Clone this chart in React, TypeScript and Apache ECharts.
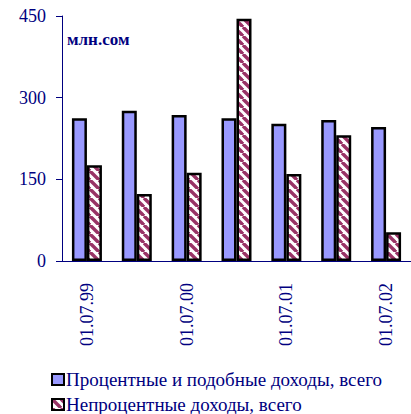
import React, { useEffect, useRef } from "react";
import * as echarts from "echarts";

const categories = ["01.07.99", "01.01.00", "01.07.00", "01.01.01", "01.07.01", "01.01.02", "01.07.02"];
const interestIncome = [262, 276, 268, 262, 252, 259, 246];
const nonInterestIncome = [176, 123, 162, 445, 160, 231, 53];
const seriesNames = ["Процентные и подобные доходы, всего", "Непроцентные доходы, всего"];
const unitLabel = "млн.сом";

const NAVY = "#000080";
const FONT = "'Liberation Serif', 'Times New Roman', serif";

function makeHatch(): string {
  const s = 9;
  const c = document.createElement("canvas");
  c.width = s;
  c.height = s;
  const ctx = c.getContext("2d")!;
  ctx.fillStyle = "#ffffff";
  ctx.fillRect(0, 0, s, s);
  ctx.strokeStyle = "#993366";
  ctx.lineWidth = 3.4;
  for (const k of [-s, 0, s]) {
    ctx.beginPath();
    ctx.moveTo(k, 0);
    ctx.lineTo(k + s, s);
    ctx.stroke();
  }
  return c.toDataURL();
}

export default function App() {
  const ref = useRef<HTMLDivElement>(null);
  useEffect(() => {
    if (!ref.current) return;
    const chart = echarts.init(ref.current, null, { renderer: "svg" });
    const hatch = makeHatch();
    const legendCommon = {
      orient: "horizontal",
      left: 46,
      itemWidth: 12,
      itemHeight: 11,
      icon: "rect",
      textStyle: { color: NAVY, fontFamily: FONT, fontSize: 19, lineHeight: 17, padding: [0, 0, 0, -3] },
    };
    chart.setOption({
      animation: false,
      backgroundColor: "#ffffff",
      grid: { left: 62, top: 16, bottom: 153, right: -4 },
      graphic: [
        {
          type: "text",
          left: 67,
          top: 31,
          style: { text: unitLabel, fill: NAVY, font: `bold 17px 'Liberation Serif', 'Times New Roman', serif` },
        },
      ],
      legend: [
        { ...legendCommon, top: 365, data: [seriesNames[0]] },
        { ...legendCommon, top: 390, data: [seriesNames[1]] },
      ],
      xAxis: {
        type: "category",
        data: categories,
        axisLine: { lineStyle: { color: NAVY, width: 1 } },
        axisTick: { interval: 0, length: 5, lineStyle: { color: NAVY } },
        axisLabel: {
          interval: 1,
          rotate: 90,
          margin: 22,
          color: NAVY,
          fontFamily: FONT,
          fontSize: 18,
        },
      },
      yAxis: {
        type: "value",
        min: 0,
        max: 450,
        interval: 150,
        splitLine: { show: false },
        axisLine: { show: true, lineStyle: { color: NAVY, width: 1 } },
        axisTick: { show: true, length: 6, lineStyle: { color: NAVY } },
        axisLabel: { color: NAVY, fontFamily: FONT, fontSize: 18, margin: 16 },
      },
      series: [
        {
          name: seriesNames[0],
          type: "bar",
          data: interestIncome,
          barWidth: 15,
          barGap: "0%",
          itemStyle: { color: "#9999ff", borderColor: "#000000", borderWidth: 2.5 },
        },
        {
          name: seriesNames[1],
          type: "bar",
          data: nonInterestIncome,
          barWidth: 15,
          itemStyle: {
            color: { image: hatch, repeat: "repeat" },
            borderColor: "#000000",
            borderWidth: 2.5,
          },
        },
      ],
    });
    return () => chart.dispose();
  }, []);
  return <div ref={ref} style={{ width: 411, height: 414, position: "absolute", left: 0, top: 0 }} />;
}
